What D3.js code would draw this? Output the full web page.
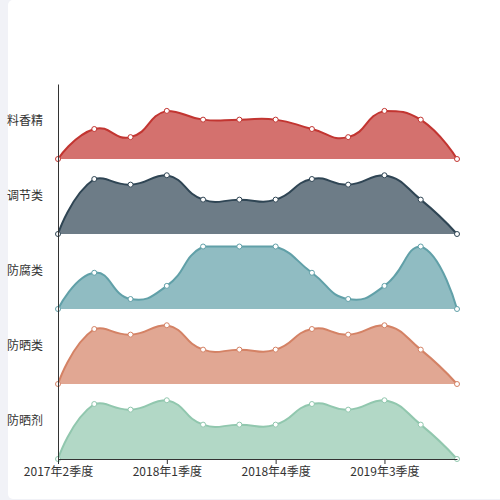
<!DOCTYPE html>
<html>
<head>
<meta charset="utf-8">
<script src="https://cdn.jsdelivr.net/npm/d3@7"></script>
<style>
  html, body { margin: 0; padding: 0; background: #f1f2f7; }
  .panel {
    position: absolute; left: 8px; top: 0; width: 500px; height: 499px;
    background: #fff; border-radius: 5px;
  }
  svg { position: absolute; left: 0; top: 0; }
  .axis text { font-family: "Noto Sans CJK SC", sans-serif; font-size: 12px; fill: #333; }
  .axis path, .axis line { stroke: #333; }
</style>
</head>
<body>
<div class="panel"></div>
<div class="canvas"></div>
<script>
const quarters = [
  "2017年2季度", "2017年3季度", "2017年4季度", "2018年1季度",
  "2018年2季度", "2018年3季度", "2018年4季度", "2019年1季度",
  "2019年2季度", "2019年3季度", "2019年4季度", "2020年1季度"
];
const tickLabels = ["2017年2季度", "2018年1季度", "2018年4季度", "2019年3季度"];
const categories = ["料香精", "调节类", "防腐类", "防晒类", "防晒剂"];
const colors = ["#c23531", "#2f4554", "#61a0a8", "#d48265", "#91c7ae"];

const liaoXiangJing = [0, 48, 35, 77, 63, 63, 63, 48, 35, 77, 63, 0];
const tiaoJieLei = [0, 88, 79, 94, 55, 55, 55, 88, 79, 94, 55, 0];
const fangFuLei = [0, 58, 16, 37, 100, 100, 100, 58, 16, 37, 100, 0];
const fangShaiLei = [0, 88, 79, 94, 55, 55, 55, 88, 79, 94, 55, 0];
const fangShaiJi = [0, 88, 79, 94, 55, 55, 55, 88, 79, 94, 55, 0];
const series = [liaoXiangJing, tiaoJieLei, fangFuLei, fangShaiLei, fangShaiJi];

const svg = d3.select(".canvas").append("svg").attr("width", 500).attr("height", 500);

const x = d3.scalePoint().domain(quarters).range([58, 457]);
const row = d3.scaleBand().domain(categories).range([84, 459]);
const y = d3.scaleLinear().domain([0, 120]).range([row.bandwidth(), 0]);

// smooth bezier like echarts (smooth 0.5, control points kept inside the points' box)
function smoothLine(pts, p, smooth = 0.5) {
  const lo = [d3.min(pts, (d) => d[0]), d3.min(pts, (d) => d[1])];
  const hi = [d3.max(pts, (d) => d[0]), d3.max(pts, (d) => d[1])];
  const clamp = (c) => [Math.max(lo[0], Math.min(hi[0], c[0])), Math.max(lo[1], Math.min(hi[1], c[1]))];
  const dist = (a, b) => Math.hypot(a[0] - b[0], a[1] - b[1]);
  let cp0 = pts[0];
  p.moveTo(pts[0][0], pts[0][1]);
  for (let i = 1; i < pts.length; i++) {
    const pt = pts[i], prev = pts[i - 1], next = pts[i + 1];
    let cp1 = pt, v = null, ratio = 0.5;
    if (next) {
      v = [next[0] - prev[0], next[1] - prev[1]];
      const lp = dist(pt, prev), ln = dist(pt, next);
      ratio = ln / (ln + lp);
      cp1 = [pt[0] - v[0] * smooth * (1 - ratio), pt[1] - v[1] * smooth * (1 - ratio)];
    }
    const a = clamp(cp0), b = clamp(cp1);
    p.bezierCurveTo(a[0], a[1], b[0], b[1], pt[0], pt[1]);
    if (v) cp0 = [pt[0] + v[0] * smooth * ratio, pt[1] + v[1] * smooth * ratio];
  }
  return p;
}

categories.forEach((c, k) => {
  const g = svg.append("g").attr("transform", `translate(0, ${row(c)})`);
  const pts = series[k].map((d, i) => [x(quarters[i]), y(d)]);

  const ap = smoothLine(pts, d3.path());
  ap.lineTo(pts[pts.length - 1][0], y(0));
  ap.lineTo(pts[0][0], y(0));
  ap.closePath();
  g.append("path").attr("d", ap.toString()).attr("fill", colors[k]).attr("fill-opacity", 0.7);
  g.append("path").attr("d", smoothLine(pts, d3.path()).toString()).attr("fill", "none")
    .attr("stroke", colors[k]).attr("stroke-width", 2);

  g.selectAll("circle")
    .data(series[k])
    .enter()
    .append("circle")
    .attr("cx", (d, i) => x(quarters[i]))
    .attr("cy", (d) => y(d))
    .attr("r", 2.5)
    .attr("fill", "#fff")
    .attr("stroke", colors[k])
    .attr("stroke-width", 1);
});

svg.append("g")
  .attr("class", "axis")
  .attr("transform", "translate(58, 0)")
  .call(d3.axisLeft(row).tickSize(0).tickPadding(15).tickSizeOuter(0));

svg.append("g")
  .attr("class", "axis")
  .attr("transform", "translate(0, 459)")
  .call(d3.axisBottom(x).tickValues(tickLabels).tickSize(5).tickSizeOuter(0).tickPadding(3));
</script>
</body>
</html>
